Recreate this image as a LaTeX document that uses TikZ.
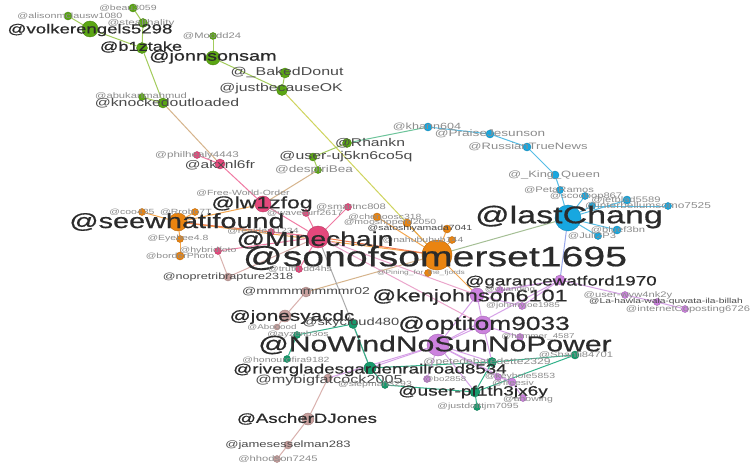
\documentclass[tikz,border=0pt]{standalone}
\usepackage{fontspec}
\setmainfont[FakeStretch=1.4]{Liberation Sans}
\newfontfamily\heavylabel[FakeStretch=1.4,FakeBold=0.6]{Liberation Sans}

\pgfdeclarelayer{edges}
\pgfdeclarelayer{labels}
\pgfsetlayers{edges,main,labels}

% node colours
\definecolor{cGreen}{HTML}{5BA614}
\definecolor{cOrange}{HTML}{EA8410}
\definecolor{cPink}{HTML}{E4487C}
\definecolor{cBlue}{HTML}{17A7E0}
\definecolor{cViolet}{HTML}{CC82DE}
\definecolor{cTeal}{HTML}{179A6C}
\definecolor{cRose}{HTML}{C8A09E}
% edge colours
\definecolor{kGreen}{HTML}{A3CC5C}
\definecolor{kYellow}{HTML}{CFD45E}
\definecolor{kTan}{HTML}{D6B48C}
\definecolor{kTealGreen}{HTML}{6CC49A}
\definecolor{kBlue}{HTML}{55BDE6}
\definecolor{kBlueViolet}{HTML}{9AA8EA}
\definecolor{kGreyGreen}{HTML}{A5BF95}
\definecolor{kOrange}{HTML}{F3A64F}
\definecolor{kRed}{HTML}{EF7A50}
\definecolor{kPink}{HTML}{F07AA3}
\definecolor{kPinkLight}{HTML}{EBA6CC}
\definecolor{kGrey}{HTML}{A9A9A9}
\definecolor{kRose}{HTML}{D9B1AE}
\definecolor{kTeal}{HTML}{32B28A}
\definecolor{kViolet}{HTML}{D7A2E8}
% label colours
\definecolor{tDark}{HTML}{2B2B2B}
\definecolor{tMid}{HTML}{4A4A4A}
\definecolor{tLight}{HTML}{8C8C8C}

\tikzset{
  vtx/.style={circle, inner sep=0pt, line width=0.4pt},
  gN/.style={fill=cGreen, draw=cGreen!80!black},
  oN/.style={fill=cOrange, draw=cOrange!80!black},
  pN/.style={fill=cPink, draw=cPink!80!black},
  bN/.style={fill=cBlue, draw=cBlue!80!black},
  vN/.style={fill=cViolet, draw=cViolet!80!black},
  tN/.style={fill=cTeal, draw=cTeal!80!black},
  rN/.style={fill=cRose, draw=cRose!80!black},
  lbA/.style={inner sep=0pt, text=tDark, execute at begin node=\heavylabel},
  lbB/.style={inner sep=0pt, text=tMid},
  lbC/.style={inner sep=0pt, text=tLight},
  edge/.style={line width=1pt},
  eGr/.style={edge, draw=kGreen},
  eYel/.style={edge, draw=kYellow},
  eTan/.style={edge, draw=kTan},
  eTG/.style={edge, draw=kTealGreen},
  eBl/.style={edge, draw=kBlue},
  eBV/.style={edge, draw=kBlueViolet},
  eGG/.style={edge, draw=kGreyGreen},
  eOr/.style={edge, draw=kOrange},
  eRd/.style={edge, draw=kRed},
  ePk/.style={edge, draw=kPink},
  ePL/.style={edge, draw=kPinkLight},
  eGy/.style={edge, draw=kGrey},
  eRo/.style={edge, draw=kRose},
  eTl/.style={edge, draw=kTeal},
  eVi/.style={edge, draw=kViolet},
}

% vertex: name, position, colour style, diameter, label position, font size, label style, text
\newcommand\vx[8]{%
  \node[vtx,#3,minimum size=#4pt] (#1) at (#2) {};
  \begin{pgfonlayer}{labels}
    \node[#7,font=\fontsize{#6}{#6}\selectfont] (#1-l) at (#5) {#8};
  \end{pgfonlayer}}

\begin{document}
\begin{tikzpicture}[x=1pt,y=-1pt]
\useasboundingbox (0,0) rectangle (752,468);
\begin{pgfonlayer}{edges}
  \fill[white] (0,0) rectangle (752,468);
\end{pgfonlayer}

% green community
\vx{beau}{133,8}{gN}{8}{128,8}{7.5}{lbC}{@beau3059}
\vx{alison}{68,16}{gN}{8}{70,16}{7.7}{lbC}{@alisonmclausw1080}
\vx{stealth}{143,23}{gN}{9}{141,23}{8.3}{lbC}{@stealthality}
\vx{volker}{90,29}{gN}{16}{90,30}{13.3}{lbA}{@volkerengels5298}
\vx{bztake}{142,48}{gN}{11}{141,47}{13}{lbA}{@b1ztake}
\vx{mudd}{213,36}{gN}{7}{212,36}{8}{lbC}{@Moodd24}
\vx{jonnson}{213,58}{gN}{14}{213,57}{14.2}{lbA}{@jonnsonsam}
\vx{baked}{285,73}{gN}{10}{287,73}{11.4}{lbB}{@\_BakedDonut}
\vx{justbec}{282,90}{gN}{11}{281,89}{11.3}{lbB}{@justbecauseOK}
\vx{abukar}{142,97}{gN}{7}{141,96}{8}{lbC}{@abukarimahmud}
\vx{knocked}{163,103}{gN}{10}{167,103}{11.3}{lbB}{@knockedoutloaded}
\vx{rhankn}{347,143}{gN}{9}{370,143}{11.2}{lbB}{@Rhankn}
\vx{useruj}{313,157}{gN}{8}{346,157}{11.3}{lbB}{@user-uj5kn6co5q}
\vx{despiri}{318,170}{gN}{7}{314,170}{9.7}{lbC}{@despiriBea}

% blue community
\vx{khann}{428,127}{bN}{8}{427,127}{9}{lbC}{@khann604}
\vx{praise}{490,134}{bN}{8}{490,134}{9.7}{lbC}{@PraiseJesunson}
\vx{russian}{527,147}{bN}{8}{528,147}{9.3}{lbC}{@RussianTrueNews}
\vx{king}{555,175}{bN}{8}{554,175}{9.2}{lbC}{@\_King\_Queen}
\vx{peta}{560,190}{bN}{7}{559,190}{8}{lbC}{@PetaRamos}
\vx{scoob}{585,196}{bN}{7}{586,196}{8}{lbC}{@scoobop867}
\vx{jet}{627,200}{bN}{8}{626,200}{8}{lbC}{@jetblad5589}
\vx{interb}{668,206}{bN}{7}{648,206}{8.5}{lbC}{@interbellumsomo7525}
\vx{nfive}{592,206}{bN}{7}{592,206}{6}{lbC}{}
\vx{lastC}{568,218}{bN}{26}{569,217}{24.3}{lbA}{@lastChang}
\vx{bluef}{617,230}{bN}{8}{618,230}{8}{lbC}{@bluef3bn}
\vx{juli}{598,236}{bN}{7}{592,236}{8}{lbC}{@Juli2P3}

% orange community
\vx{seewhat}{178,222}{oN}{18}{177,222}{20.6}{lbA}{@seewhatifound}
\vx{cos}{142,212}{oN}{7}{132,212}{7.5}{lbC}{@coo435}
\vx{rob}{195,212}{oN}{7}{186,212}{7.5}{lbC}{@Rrobo7T}
\vx{eyebee}{180,239}{oN}{7}{178,239}{7.5}{lbC}{@Eyebee4.8}
\vx{border}{180,256}{oN}{8}{180,256}{7.5}{lbC}{@borderPhoto}
\vx{oosc}{377,217}{oN}{8}{385,217}{7.5}{lbC}{@chenoosc318}
\vx{moosh}{407,223}{oN}{8}{390,223}{7.5}{lbC}{@mooshpperd2050}
\vx{satoshi}{447,229}{oN}{8}{420,229}{7.5}{lbB}{@satoshiyamada7041}
\vx{nahub}{452,240}{oN}{7}{423,240}{7.5}{lbC}{@nahubuhub144}
\vx{pining}{428,273}{oN}{7}{421,273}{6}{lbC}{@Pining\_for\_the\_fjords}
\vx{sonof}{437,255}{oN}{30}{435,258}{28}{lbA}{@sonofsomerset1695}

% pink community
\vx{lwzfog}{263,204}{pN}{16}{262,204}{16.4}{lbA}{@lw1zfog}
\vx{akxnl}{220,164}{pN}{10}{220,165}{11.1}{lbB}{@akxnl6fr}
\vx{philhe}{197,155}{pN}{7}{197,155}{8.3}{lbC}{@philhealy4443}
\vx{smart}{348,207}{pN}{7}{351,207}{8}{lbC}{@smartnc808}
\vx{wave}{306,213}{pN}{7}{305,213}{7.5}{lbC}{@wavesurf2617}
\vx{realdeal}{271,232}{pN}{7}{263,231}{7.5}{lbC}{@realdeal1234}
\vx{hybrid}{218,251}{pN}{7}{208,251}{7.5}{lbC}{@hybridfoto}
\vx{truth}{299,269}{pN}{7}{300,269}{7.5}{lbC}{@truth-dd4hs}
\vx{minechain}{318,237}{pN}{22}{315,240}{20.1}{lbA}{@Minechain}
\node[lbC,font=\fontsize{7.5}{7.5}\selectfont] (freeworld) at (243,193) {@Free-World-Order};

% rose community
\vx{nopretr}{228,277}{rN}{8}{228,277}{9}{lbB}{@nopretribrapture2318}
\vx{mmmm}{306,292}{rN}{10}{306,292}{10}{lbB}{@mmmmmmmmr02}
\vx{jonesy}{285,316}{rN}{12}{292,317}{14.8}{lbA}{@jonesyacdc}
\vx{aboo}{277,327}{rN}{6}{272,327}{7}{lbC}{@Abooood}
\vx{mybig}{328,378}{rN}{8}{329,380}{11.6}{lbB}{@mybigfatcock2005}
\vx{ascher}{308,419}{rN}{12}{307,419}{13.3}{lbA}{@AscherDJones}
\vx{jameses}{288,445}{rN}{8}{288,445}{9.3}{lbB}{@jamesesselman283}
\vx{hhod}{277,459}{rN}{7}{278,459}{8}{lbC}{@hhodson7245}

% teal community
\vx{skycloud}{353,324}{tN}{9}{351,323}{10.5}{lbB}{@skycloud480}
\vx{ayz}{297,335}{tN}{7}{298,335}{7.5}{lbC}{@ayzenb3os}
\vx{honour}{287,359}{tN}{7}{286,360}{7.5}{lbC}{@honourofira9182}
\vx{river}{370,368}{tN}{12}{370,370}{13.4}{lbA}{@rivergladesgardenrailroad8534}
\vx{slep}{385,385}{tN}{7}{375,385}{7.5}{lbC}{@slepman3293}
\vx{pete}{492,362}{tN}{9}{487,362}{8.7}{lbC}{@petedebatedette2329}
\vx{userpf}{475,392}{tN}{10}{473,392}{13.6}{lbA}{@user-pf1th3jx6y}
\vx{justdo}{477,407}{tN}{7}{478,407}{7.5}{lbC}{@justdoittjm7095}
\vx{shanti}{575,355}{tN}{8}{576,355}{8}{lbC}{@Shanti84701}

% violet community
\vx{kenj}{477,295}{vN}{14}{470,297}{16.7}{lbA}{@kenjohnson6101}
\vx{garance}{560,280}{vN}{10}{561,282}{13.5}{lbA}{@garancewatford1970}
\vx{ouand}{500,290}{vN}{7}{510,290}{7}{lbC}{@ouanding}
\vx{johnny}{522,306}{vN}{7}{523,306}{7}{lbC}{@johnnyjoe1985}
\vx{optitom}{483,325}{vN}{18}{484,325}{18.8}{lbA}{@optitom9033}
\vx{hammer}{520,337}{vN}{7}{538,337}{7}{lbC}{@hammer\_4587}
\vx{nowind}{438,345}{vN}{22}{435,345}{21.5}{lbA}{@NoWindNoSunNoPower}
\vx{bo}{427,379}{vN}{7}{445,379}{7}{lbC}{@bo2858}
\vx{keyh}{498,377}{vN}{7}{520,377}{7.5}{lbC}{@keyhole5853}
\vx{freesiv}{512,382}{vN}{8}{513,383}{7.5}{lbC}{@freesiv}
\vx{ahow}{523,398}{vN}{7}{528,400}{7.5}{lbC}{@ahowing}
\vx{userwy}{625,295}{vN}{7}{628,295}{8}{lbC}{@user-wyw4nk2y}
\vx{lahawla}{657,302}{vN}{7}{666,302}{7.3}{lbB}{@La-hawla-wala-quwata-ila-billah}
\vx{internet}{685,309}{vN}{7}{688,309}{8}{lbC}{@internetCoposting6726}

\begin{pgfonlayer}{edges}
  % green
  \draw[eGr] (alison) -- (volker);
  \draw[eGr] (volker) -- (bztake);
  \draw[eGr] (beau) -- (stealth);
  \draw[eGr] (stealth) -- (bztake);
  \draw[eGr] (bztake) -- (knocked);
  \draw[eGr] (abukar) -- (knocked);
  \draw[eTan] (knocked) -- (akxnl);
  \draw[eGr] (mudd) -- (jonnson);
  \draw[eGr] (jonnson) -- (justbec);
  \draw[eGr] (baked) -- (justbec);
  \draw[eYel] (justbec) -- (sonof);
  \draw[eGr] (rhankn) -- (useruj);
  \draw[eGr] (useruj) -- (despiri);
  \draw[eTan] (despiri) -- (lwzfog);
  \draw[eTG] (rhankn) -- (khann);
  % blue
  \draw[eBl] (khann) -- (praise);
  \draw[eBl] (praise) -- (russian);
  \draw[eBl] (russian) -- (king);
  \draw[eBl] (king) -- (peta);
  \draw[eBl] (peta) -- (lastC);
  \draw[eBl] (lastC) -- (scoob);
  \draw[eBl] (lastC) -- (jet);
  \draw[eBl] (lastC) -- (nfive);
  \draw[eBl] (nfive) -- (interb);
  \draw[eBl] (lastC) -- (bluef);
  \draw[eBl] (lastC) -- (juli);
  \draw[eBV] (lastC) -- (garance);
  \draw[eGG] (lastC) -- (sonof);
  % orange
  \draw[eOr] (sonof) -- (oosc);
  \draw[eOr] (sonof) -- (moosh);
  \draw[eOr] (sonof) -- (satoshi);
  \draw[eOr] (sonof) -- (nahub);
  \draw[eOr] (sonof) -- (pining);
  \draw[eOr] (sonof) -- (seewhat);
  \draw[eOr] (sonof) -- (kenj);
  \draw[eRd] (sonof) -- (minechain);
  \draw[eTan] (sonof) -- (mmmm);
  \draw[eOr] (seewhat) -- (cos);
  \draw[eOr] (seewhat) -- (rob);
  \draw[eOr] (seewhat) -- (eyebee);
  \draw[eOr] (eyebee) -- (border);
  \draw[eOr] (seewhat) -- (lwzfog);
  \draw[eRd] (seewhat) -- (minechain);
  % pink
  \draw[ePk] (minechain) -- (lwzfog);
  \draw[ePk] (minechain) -- (smart);
  \draw[ePk] (minechain) -- (wave);
  \draw[ePk] (minechain) -- (realdeal);
  \draw[ePk] (minechain) -- (hybrid);
  \draw[ePk] (minechain) -- (truth);
  \draw[ePk] (lwzfog) -- (akxnl);
  \draw[ePk] (akxnl) -- (philhe);
  \draw[ePL] (minechain) -- (kenj);
  \draw[ePL] (minechain) -- (optitom);
  \draw[eGy] (minechain) -- (river);
  % rose
  \draw[eRo] (nopretr) -- (minechain);
  \draw[eRo] (nopretr) -- (hybrid);
  \draw[eRo] (mmmm) -- (jonesy);
  \draw[eRo] (jonesy) -- (aboo);
  \draw[eRo] (mybig) -- (ascher);
  \draw[eRo] (ascher) -- (jameses);
  \draw[eRo] (jameses) -- (hhod);
  % teal
  \draw[eTl] (honour) -- (ayz);
  \draw[eTl] (ayz) -- (skycloud);
  \draw[eTl] (skycloud) -- (river);
  \draw[eTl] (river) -- (slep);
  \draw[eTl] (slep) -- (userpf);
  \draw[eTl] (river) -- (pete);
  \draw[eTl] (pete) -- (userpf);
  \draw[eTl] (userpf) -- (justdo);
  \draw[eTl] (shanti) -- (pete);
  \draw[eTl] (shanti) -- (userpf);
  % violet
  \draw[eVi] (nowind) -- (optitom);
  \draw[eVi] (nowind) -- (kenj);
  \draw[eVi] (nowind) -- (garance);
  \draw[eVi] (optitom) -- (kenj);
  \draw[eVi] (kenj) -- (garance);
  \draw[eVi] (garance) -- (ouand);
  \draw[eVi] (kenj) -- (johnny);
  \draw[eVi] (garance) -- (johnny);
  \draw[eVi] (optitom) -- (hammer);
  \draw[eVi] (optitom) -- (pete);
  \draw[eVi] (nowind) -- (pete);
  \draw[eVi] (nowind) -- (keyh);
  \draw[eVi] (nowind) -- (freesiv);
  \draw[eVi] (nowind) -- (bo);
  \draw[eVi] (nowind) -- (river);
  \draw[eVi] (nowind) -- (mybig);
  \draw[eVi] (nowind) -- (userpf);
  \draw[eVi] (keyh) -- (freesiv);
  \draw[eVi] (freesiv) -- (ahow);
  \draw[eVi] (garance) -- (userwy);
  \draw[eVi] (userwy) -- (lahawla);
  \draw[eVi] (lahawla) -- (internet);
\end{pgfonlayer}
\end{tikzpicture}
\end{document}
